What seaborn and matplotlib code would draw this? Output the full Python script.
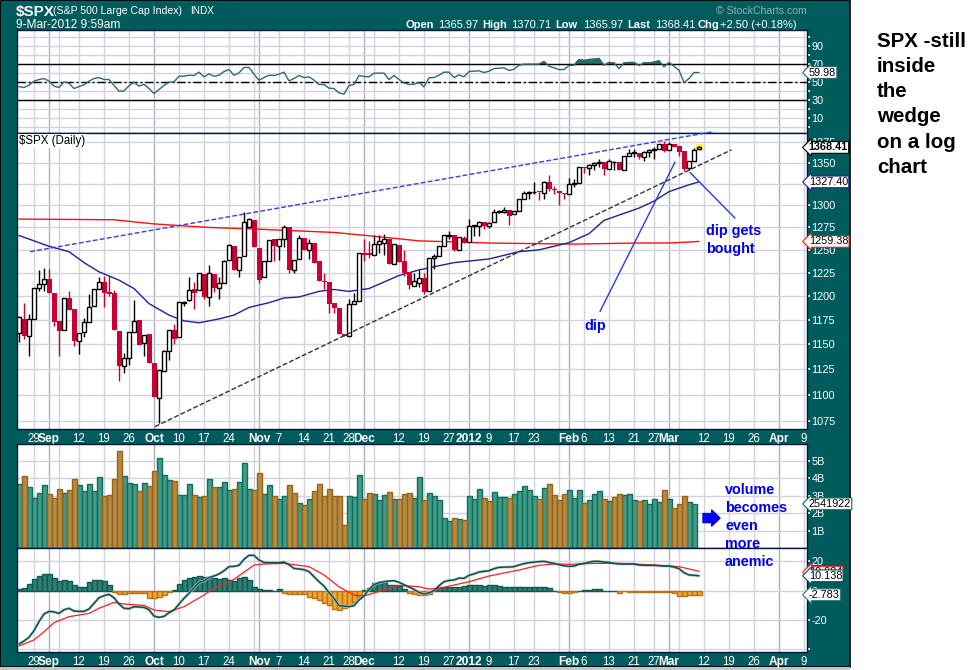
import numpy as np
import seaborn as sns
from matplotlib import pyplot as plt
from matplotlib.patches import Rectangle
from matplotlib.ticker import NullLocator

# **************************************************************************
# data, one entry per trading day

rsi_values = [44.4, 43.3, 45.9, 50.4, 52.2, 53.3, 50.4, 44.8, 43.3, 49.6,
              48.1, 42.2, 44.4, 46.3, 50.4, 53.3, 54.4, 52.2, 52.2, 45.6,
              39.3, 39.6, 45.2, 49.3, 44.8, 47.0, 42.2, 36.7, 41.1, 45.6,
              49.3, 49.6, 55.9, 55.9, 57.0, 56.7, 60.4, 55.2, 58.5, 55.9,
              57.0, 61.1, 63.3, 57.0, 59.6, 65.6, 65.6, 58.1, 51.5, 54.4,
              57.0, 56.7, 58.1, 60.4, 50.7, 53.3, 56.7, 54.4, 55.2, 51.5,
              46.7, 46.7, 42.6, 42.2, 37.4, 35.9, 45.6, 46.7, 56.7, 55.6,
              55.2, 59.3, 59.3, 59.3, 52.2, 56.7, 52.2, 48.5, 46.7, 47.0,
              48.9, 44.1, 54.1, 54.4, 57.0, 60.4, 60.4, 54.4, 57.4, 55.2,
              61.1, 61.5, 61.9, 60.0, 61.5, 64.4, 64.8, 65.2, 62.2, 63.7,
              68.1, 69.3, 69.3, 69.3, 69.3, 72.2, 67.0, 65.2, 63.3, 63.3,
              67.8, 68.1, 74.4, 73.3, 74.4, 74.8, 75.6, 68.1, 71.1, 70.7,
              64.4, 70.7, 71.1, 71.1, 67.8, 70.7, 70.7, 71.5, 73.0, 66.3,
              71.1, 67.0, 62.6, 48.9, 53.3, 60.0, 59.98]

price_open = [1161, 1176, 1158, 1176, 1209, 1213, 1218, 1203, 1173.5, 1165,
              1198, 1186, 1153, 1162, 1173, 1189, 1208, 1215, 1204, 1203,
              1164, 1128, 1136, 1162, 1175, 1151, 1160, 1131, 1097, 1123,
              1143, 1165, 1157, 1193, 1196, 1207, 1206, 1224, 1199.5, 1224,
              1209, 1214, 1239, 1254, 1228, 1243, 1275, 1284, 1252, 1220,
              1238, 1262, 1254, 1262, 1275, 1228, 1240, 1263, 1250, 1258,
              1238, 1216, 1215, 1192.5, 1187, 1160.5, 1158, 1191.5, 1195, 1246.5,
              1246, 1244, 1257, 1258, 1262, 1235, 1255, 1238, 1226, 1211,
              1214, 1219, 1205, 1241, 1243, 1254, 1265, 1266, 1250, 1263,
              1259, 1277, 1277, 1281, 1277, 1281, 1292, 1293, 1295, 1290,
              1294, 1308, 1315, 1315.5, 1317, 1315, 1327, 1319, 1317, 1315,
              1313, 1325, 1326, 1345, 1344, 1347, 1350, 1351, 1343, 1350.5,
              1351, 1342, 1358, 1361.5, 1362, 1357, 1363, 1365, 1367, 1372,
              1365, 1373, 1370, 1364, 1344, 1352, 1365.97]
price_high = [1179, 1193, 1181, 1209, 1228, 1230, 1229, 1203, 1173.5, 1198,
              1205, 1186, 1161, 1177, 1202, 1208, 1220, 1221, 1221, 1206,
              1164, 1141, 1162, 1196, 1175, 1159, 1160, 1131, 1124, 1144.5,
              1165, 1171, 1194, 1194.5, 1220, 1215, 1225, 1224, 1233, 1224,
              1220, 1239, 1257, 1254, 1242, 1293, 1286, 1284, 1252, 1238,
              1261, 1262, 1262, 1278, 1275, 1239, 1267, 1263, 1262, 1258,
              1238, 1225, 1215, 1192.5, 1187, 1160.5, 1197, 1203, 1246.5, 1262,
              1260, 1267, 1267, 1268, 1262, 1256, 1255, 1250, 1226, 1225,
              1228, 1225, 1241, 1245, 1254, 1266, 1271, 1266, 1264, 1265,
              1285, 1278, 1282, 1281, 1281, 1296, 1295, 1298, 1295, 1294,
              1308, 1317, 1317, 1327, 1317, 1329, 1335, 1322, 1317, 1315,
              1332, 1331, 1345, 1345, 1348, 1351, 1354, 1351, 1354, 1352,
              1351, 1358, 1366, 1367, 1362, 1364, 1367, 1369, 1372, 1376,
              1375, 1373, 1370, 1364, 1352, 1368, 1370.71]
price_low = [1152, 1155, 1138, 1176, 1205, 1205, 1203, 1169, 1138, 1165,
             1185, 1148, 1140, 1157, 1173, 1189, 1208, 1188, 1200, 1165,
             1113, 1121, 1129, 1162, 1149.5, 1138, 1131, 1098, 1073, 1123,
             1134, 1150, 1157, 1190, 1195, 1186, 1206, 1197, 1190, 1204,
             1197, 1214, 1239, 1228, 1220, 1243, 1275, 1253, 1214, 1220,
             1238, 1238, 1239, 1253, 1225, 1225, 1240, 1250, 1240, 1236,
             1216, 1208, 1182, 1182, 1160.5, 1158, 1158, 1191.5, 1195, 1238,
             1241, 1244, 1246, 1244, 1234, 1235, 1237, 1221, 1208, 1211,
             1210, 1202, 1205, 1229, 1243, 1254, 1262, 1249, 1250, 1258,
             1259, 1265, 1265, 1273, 1274, 1281, 1291, 1291.5, 1278, 1290,
             1294, 1308, 1308, 1313, 1306, 1307, 1317, 1313, 1300, 1307,
             1313, 1321, 1326, 1338, 1336, 1342, 1345, 1336, 1343, 1342,
             1342, 1342, 1358, 1357, 1355, 1352, 1357, 1354, 1367, 1363,
             1365, 1369, 1358, 1340, 1342, 1352, 1365.97]
price_close = [1178, 1158, 1176, 1209, 1213, 1218, 1203, 1173, 1164, 1198,
               1185, 1153, 1161, 1173, 1188, 1208, 1215, 1203, 1202, 1165,
               1128, 1136, 1162, 1174, 1149.5, 1159, 1131, 1098, 1124, 1143,
               1165, 1155, 1194, 1194, 1206, 1203, 1225, 1199, 1225, 1209,
               1214, 1238, 1255, 1228, 1242, 1281, 1285, 1253, 1217, 1238,
               1261, 1254, 1262, 1276, 1228, 1239, 1263, 1250, 1258, 1236,
               1216, 1215, 1192, 1187, 1160.5, 1158, 1191.5, 1195, 1246.5, 1244,
               1244, 1257, 1260, 1262, 1234, 1256, 1237, 1225, 1212, 1216,
               1219, 1204, 1241, 1243, 1254, 1266, 1267, 1250, 1264, 1258,
               1277, 1278, 1281, 1277, 1280, 1292, 1294, 1295, 1288, 1294,
               1308, 1315, 1316, 1316, 1316, 1327, 1319, 1318, 1314, 1313,
               1325, 1326, 1345, 1344, 1347, 1350, 1351.5, 1343, 1352, 1351,
               1342, 1358, 1362, 1363, 1357, 1363, 1365, 1367, 1372, 1364,
               1373, 1369, 1363, 1343, 1352, 1365, 1368.41]

# moving averages, read at these trading days only
ma200_days = [0, 19, 27, 38, 46, 63, 70, 80, 86, 94, 111, 124, 130, 135, 136]
ma200_vals = [1284.5, 1283.7, 1279, 1275, 1273.5, 1269.4, 1265.7, 1260, 1259,
              1257.6, 1256.4, 1257.6, 1257.6, 1259, 1259.38]
ma50_days = [0, 3, 6, 10, 13, 16, 20, 23, 26, 30, 33, 36, 40, 43, 46, 50, 53,
             56, 60, 63, 66, 70, 73, 76, 80, 87, 94, 100, 104, 107, 110, 114,
             117, 120, 124, 127, 130, 134, 136]
ma50_vals = [1266, 1260, 1254, 1248, 1236, 1226, 1217, 1208, 1192, 1180, 1174,
             1172, 1176, 1180, 1188, 1193, 1198, 1199, 1205, 1207, 1205, 1208,
             1215, 1222, 1228, 1236, 1240, 1248, 1250, 1254, 1258, 1268, 1283,
             1289, 1297, 1305, 1316, 1324, 1327.4]

volume_vals = [3.66, 4.14, 3.49, 2.86, 3.15, 3.61, 3.09, 2.86, 3.38, 3.15,
               3.32, 3.95, 3.61, 3.26, 3.66, 3.26, 4.06, 2.98, 3.03, 3.95,
               5.55, 4.12, 3.72, 3.66, 3.26, 3.72, 3.55, 4.41, 5.15, 4.18,
               3.89, 3.84, 3.03, 3.03, 3.66, 3.03, 2.92, 2.98, 3.95, 3.49,
               3.49, 3.78, 3.32, 3.38, 3.78, 4.87, 3.38, 3.32, 4.29, 3.09,
               3.61, 2.98, 2.81, 2.98, 3.61, 3.15, 2.58, 2.46, 2.81, 3.26,
               3.66, 2.98, 3.38, 2.98, 2.98, 1.32, 2.98, 2.92, 4.18, 2.81,
               3.15, 3.09, 2.75, 3.03, 3.21, 2.81, 2.81, 3.09, 3.15, 2.86,
               4.06, 2.77, 3.15, 2.98, 2.75, 1.72, 1.55, 1.72, 1.66, 1.60,
               2.98, 2.81, 3.38, 2.86, 2.69, 3.21, 2.92, 2.92, 2.86, 3.09,
               3.26, 3.55, 3.32, 2.98, 2.81, 3.44, 3.66, 3.03, 2.75, 3.09,
               3.32, 2.86, 3.32, 2.58, 2.75, 3.09, 3.26, 2.81, 2.69, 2.92,
               3.09, 3.03, 3.09, 2.75, 2.69, 2.75, 2.52, 2.81, 2.63, 3.32,
               2.81, 2.29, 2.52, 2.98, 2.63, 2.54]
# g = up day, b = down day
volume_flags = list("gbggggbbbg" "bbgggggbbb" "bgggbgbbgg" "gbgggbgbgb"
                    "gggbgggbbg" "gbggbbgbgb" "bbbbbbgggb" "bgggbgbbbg"
                    "g" "bgggggbgbg" "ggbbgggbgg" "gggbgbbbbg"
                    "ggbgggbgbb" "gggbggggbg" "bbbgg")

macd_line = [-36.4, -34.3, -31.8, -27.3, -21.1, -15.9, -14.1, -14.5, -15.5, -13,
             -12, -13.9, -14.1, -14.1, -12.5, -8.6, -4.8, -3.4, -2.5, -4.8,
             -9.1, -12, -12.3, -10.9, -11.1, -11.4, -13, -17.3, -18.2, -17.5,
             -15, -13.2, -9.1, -5.2, -1.8, 2, 5.5, 6.8, 8.9, 10,
             11.4, 13.6, 16.4, 16.6, 17.3, 21.4, 24.1, 24.1, 20.9, 19.3,
             19.1, 19.1, 19.1, 19.5, 17.7, 15.2, 14.8, 14.3, 13, 9.5,
             6.1, 3.2, -1.4, -5.2, -10.2, -10.5, -10.9, -10.2, -6.4, -3.6,
             0.9, 4.1, 5.5, 6.1, 6.6, 6.8, 5.7, 4.1, 2.5, 0.9,
             -1.1, -2.3, -1.4, 0, 3.4, 6.1, 7, 7.3, 8.6, 8.4,
             10.5, 11.4, 12.7, 13.2, 13.6, 15, 15.9, 16.1, 16.1, 16.4,
             17.5, 18.4, 19.1, 19.5, 19.8, 20, 19.3, 18.6, 17.7, 17,
             16.6, 16.8, 18, 18.6, 19.5, 20, 20, 19.5, 19.3, 18.6,
             18.2, 18.2, 18.2, 18.2, 17.5, 17.3, 17.3, 17.3, 17, 16.8,
             16.8, 16.1, 15, 12.3, 10.7, 10.5, 10.14]
signal_days = [0, 3, 5, 7, 10, 14, 16, 19, 21, 25, 27, 30, 33, 37, 39, 43, 47,
               49, 53, 58, 61, 64, 67, 69, 73, 76, 80, 82, 84, 90, 94, 100, 104,
               107, 110, 115, 120, 127, 132, 136]
signal_vals = [-37.7, -33.6, -28, -21.8, -17.7, -15.5, -12, -8, -9.1, -10, -13.2,
               -14.3, -10.9, -3, 1.6, 7.7, 17.5, 18.2, 18.6, 16.4, 10.7, 2.7, -3,
               -3.6, 0.5, 3.6, 2.7, 1.1, 1.6, 6.1, 10, 14.1, 17.3, 18.2, 18,
               18.6, 18.6, 17.5, 16.4, 13.2]
macd_hist = [0.9, 1.6, 4.3, 7.7, 10, 11.1, 11.1, 8.4, 6.4, 7,
             6.4, 3.6, 2.3, 2.7, 5.7, 7, 7, 6.4, 3.6, -0.7,
             -2.5, -2.5, -1.4, -1.4, -1.4, -1.8, -5.2, -5.2, -4.1, -3,
             -0.7, 0.7, 4.3, 7, 8.6, 9.1, 9.8, 9.1, 9.1, 8.4,
             8.2, 8.6, 7, 6.4, 8.4, 9.1, 7.3, 2.3, 0.9, 0.7,
             0.7, 0, 1.4, -1.8, -2.5, -2.3, -2.5, -2.5, -4.1, -5.2,
             -6.4, -8.6, -9.8, -12.5, -13.2, -12, -9.8, -7.5, -4.1, 0.5,
             2, 5, 5.7, 5.7, 4.1, 4.1, 3.2, 0.9, -1.8, -2.5,
             -3, -3, -2.3, 0.5, 2.3, 2.7, 2.7, 2.7, 2.7, 3.2,
             3.6, 3.6, 3.6, 3.4, 3.6, 3.6, 3.2, 2.3, 2.3, 2.3,
             2.3, 2.7, 2.7, 2.3, 2.3, 2.3, 1.6, 0, -0.9, -1.4,
             -1.4, -0.7, 0, 0.5, 0.5, 0.9, 1.4, 0, 0, 0,
             -1.4, -0.5, -0.7, -0.7, -0.7, -0.7, -0.7, -0.7, -0.9, -1.1,
             -1.1, -1.4, -3.6, -3.6, -3.2, -3, -2.78]

# x axis, positions are trading day numbers
month_days = [6, 27, 48, 69, 90, 110, 130, 152]
month_labels = ['Sep', 'Oct', 'Nov', 'Dec', '2012', 'Feb', 'Mar', 'Apr']
tick_days = [3, 8, 12, 17, 22, 32, 37, 42, 47, 52, 57, 62, 66, 71, 76, 81, 86,
             94, 99, 103, 108, 113, 118, 123, 127, 132, 137, 142, 147, 157]
tick_labels = ['29', '', '12', '19', '26', '10', '17', '24', '', '7', '14', '21',
               '28', '', '12', '19', '27', '9', '17', '23', '', '6', '13', '21',
               '27', '', '12', '19', '26', '9']

# drawn by hand on the chart: (day, value) at both ends
upper_wedge = ([2.2, 139], [1248, 1387.8])
lower_wedge = ([27.2, 142.5], [1069.3, 1365.6])
dip_pointer = ([116.2, 131.2], [1183.8, 1350.8])
bought_pointer = ([134.2, 143.2], [1338.5, 1285.6])

# **************************************************************************

FIG_W = 976
FIG_H = 670
TEAL = '#005c5c'
GRID = '#d2d2e0'
GRID_DARK = '#adb0c2'
NAVY = '#00183c'
RED = '#cc0033'
NOTE_BLUE = '#0000ee'
FONT = 'Liberation Sans'


def panel(fig, top, bottom):
    # panels are placed by pixel rows of the original picture
    left, right = 16.5, 806.5
    ax = fig.add_axes([left / FIG_W, 1 - bottom / FIG_H, (right - left) / FIG_W, (bottom - top) / FIG_H])
    ax.set_xlim(-0.5, 157.5)
    ax.set_facecolor('white')
    for spine in ax.spines.values():
        spine.set_color(NAVY)
        spine.set_linewidth(1)
    return ax


def style_axis(ax, y_ticks, y_labels, show_dates=False):
    ax.set_yticks(y_ticks, y_labels)
    ax.yaxis.set_minor_locator(NullLocator())
    ax.yaxis.tick_right()
    ax.set_xticks(month_days, month_labels if show_dates else [''] * len(month_days))
    ax.set_xticks(tick_days, tick_labels if show_dates else [''] * len(tick_days), minor=True)
    ax.tick_params(axis='y', length=2, color='white', labelcolor='white', labelsize=7.8, pad=1.5)
    ax.tick_params(axis='x', which='both', length=0, labelcolor='white', pad=3)
    ax.tick_params(axis='x', which='major', labelsize=8.6)
    ax.tick_params(axis='x', which='minor', labelsize=8.3)
    for label in ax.get_xticklabels():
        label.set_fontweight('bold')
    ax.set_axisbelow(True)
    ax.grid(axis='y', color=GRID, linewidth=1)
    ax.grid(axis='x', which='major', color=GRID_DARK, linewidth=1)
    ax.grid(axis='x', which='minor', color=GRID, linewidth=1)
    ax.set_xlabel('')
    ax.set_ylabel('')


def value_tag(ax, value, text, edge, weight='normal', size=7.8):
    # white tag in the right margin, pointing at the last value
    ax.text(1.0028, value, text, transform=ax.get_yaxis_transform(), va='center', ha='left',
            color='black', fontsize=size, fontweight=weight, zorder=6,
            bbox=dict(boxstyle='larrow,pad=0.08', facecolor='white', edgecolor=edge, linewidth=0.8))


def fig_text(fig, x, y, text, **kwargs):
    kwargs.setdefault('va', 'center_baseline')
    fig.text(x / FIG_W, 1 - y / FIG_H, text, **kwargs)


def draw_bars(ax, days, vals, fill, edge):
    sns.barplot(x=days, y=vals, color=fill, edgecolor=edge, linewidth=1, saturation=1,
                native_scale=True, width=1, errorbar=None, ax=ax)


def run_chart():

    sns.set_theme(style='white')
    plt.rcParams['font.family'] = [FONT, 'DejaVu Sans']

    fig = plt.figure(figsize=(FIG_W / 100, FIG_H / 100), dpi=100, facecolor='white')

    # teal frame of the chart
    fig.add_artist(Rectangle((0, 3 / FIG_H), 850 / FIG_W, 667 / FIG_H, transform=fig.transFigure,
                             facecolor=TEAL, edgecolor='black', linewidth=1.2, zorder=-1))
    fig.add_artist(Rectangle((0, 0), 850 / FIG_W, 3 / FIG_H, transform=fig.transFigure,
                             facecolor='#c4c4c4', edgecolor='none', zorder=-1))

    days = np.arange(len(price_close))

    # ------------------------------ RSI panel
    ax_rsi = panel(fig, 29.5, 133)
    rsi = np.array(rsi_values)
    ax_rsi.fill_between(days, 70, rsi, where=rsi > 70, color='#1f6f66', interpolate=True, zorder=2)
    sns.lineplot(x=days, y=rsi, color='#2f6b6b', linewidth=1.0, ax=ax_rsi, zorder=3)
    ax_rsi.axhline(70, color='black', linewidth=1, zorder=2)
    ax_rsi.axhline(30, color='black', linewidth=1, zorder=2)
    ax_rsi.axhline(50, color='black', linewidth=1, linestyle=(0, (6, 2, 1.5, 2)), zorder=2)
    style_axis(ax_rsi, list(range(0, 101, 10)),
               ['', '10', '', '30', '', '50', '', '70', '', '90', ''])
    ax_rsi.set_ylim(-7.2, 107.8)
    value_tag(ax_rsi, 59.98, '59.98', '#2f6b6b')

    # ------------------------------ price panel
    ax_price = panel(fig, 133, 429)
    ax_price.set_yscale('log')
    sns.lineplot(x=ma200_days, y=ma200_vals, color='#ff1010', linewidth=1.0, ax=ax_price, zorder=2)
    sns.lineplot(x=ma50_days, y=ma50_vals, color='#20209a', linewidth=1.0, ax=ax_price, zorder=2)

    opens = np.array(price_open)
    closes = np.array(price_close)
    rising = closes >= opens
    ax_price.plot(days[-1], price_close[-1], marker='s', markersize=4.8, color='#ffee55', linestyle='none', zorder=2.5)
    ax_price.vlines(days[rising], np.array(price_low)[rising], np.array(price_high)[rising],
                    color='black', linewidth=1, zorder=3)
    ax_price.vlines(days[~rising], np.array(price_low)[~rising], np.array(price_high)[~rising],
                    color=RED, linewidth=1, zorder=3)
    ax_price.bar(days[~rising], (opens - closes)[~rising], bottom=closes[~rising], width=1,
                 color=RED, linewidth=0, zorder=4)
    ax_price.bar(days[rising], (closes - opens)[rising], bottom=opens[rising], width=0.8,
                 facecolor='white', edgecolor='black', linewidth=1, zorder=4)

    ax_price.plot(*upper_wedge, color='#3a3aee', linewidth=1.0, linestyle=(0, (3.5, 1.6)), clip_on=False, zorder=5)
    ax_price.plot(*lower_wedge, color='#333333', linewidth=1.0, linestyle=(0, (3.5, 1.6)), zorder=5)
    ax_price.plot(*dip_pointer, color='#2a3fd0', linewidth=1.0, zorder=5)
    ax_price.plot(*bought_pointer, color='#2a3fd0', linewidth=1.0, zorder=5)

    price_ticks = list(range(1075, 1376, 25))
    price_labels = [str(t) if t != 1325 else '' for t in price_ticks]
    style_axis(ax_price, price_ticks, price_labels, show_dates=True)
    ax_price.set_ylim(1067, 1386)
    ax_price.text(0.003, 0.993, '$SPX (Daily)', transform=ax_price.transAxes, va='top', ha='left',
                  fontsize=8.3, color='black', zorder=6,
                  bbox=dict(facecolor='white', edgecolor='none', pad=0.5))
    value_tag(ax_price, 1368.41, '1368.41', 'black', weight='bold')
    value_tag(ax_price, 1327.40, '1327.40', '#20209a')
    value_tag(ax_price, 1259.38, '1259.38', '#ff1010')

    # ------------------------------ volume panel
    ax_vol = panel(fig, 444, 548)
    vol_days = days[:len(volume_vals)]
    vols = np.array(volume_vals)
    up_day = np.array([flag == 'g' for flag in volume_flags])
    draw_bars(ax_vol, vol_days[up_day], vols[up_day], '#439a86', '#0d6e5c')
    draw_bars(ax_vol, vol_days[~up_day], vols[~up_day], '#b28b48', '#99620f')
    style_axis(ax_vol, [1, 2, 3, 4, 5], ['1B', '2B', '3B', '4B', '5B'])
    ax_vol.set_ylim(0, 5.98)
    ax_vol.set_xlim(-0.5, 157.5)
    value_tag(ax_vol, 2.54, '2541922', '#0d6e5c')
    ax_vol.annotate('', xy=(140.2, 1.72), xytext=(136.8, 1.72), annotation_clip=False,
                    arrowprops=dict(width=6.5, headwidth=11.5, headlength=6, color='#0000ff', shrink=0))

    # ------------------------------ MACD panel
    ax_macd = panel(fig, 548, 652)
    hist = np.array(macd_hist)
    draw_bars(ax_macd, days[hist >= 0], hist[hist >= 0], '#2f7f74', '#0f5a50')
    draw_bars(ax_macd, days[hist < 0], hist[hist < 0], '#f5a52a', '#b5741a')
    sns.lineplot(x=days, y=macd_line, color='#b4cccc', linewidth=2.0, ax=ax_macd, zorder=3)
    sns.lineplot(x=days, y=macd_line, color='#0f4f4f', linewidth=1.1, ax=ax_macd, zorder=3.2)
    sns.lineplot(x=signal_days, y=signal_vals, color='#ff2020', linewidth=0.9, ax=ax_macd, zorder=3.1)
    style_axis(ax_macd, [-40, -20, 0, 20], ['', '-20', '0', '20'], show_dates=True)
    ax_macd.set_ylim(-41.8, 29.1)
    ax_macd.set_xlim(-0.5, 157.5)
    value_tag(ax_macd, 12.6, '10.884', '#ff2020')
    value_tag(ax_macd, 10.14, '10.138', '#0f4f4f')
    value_tag(ax_macd, -2.78, '-2.783', '#2f7f74')

    # ------------------------------ header
    fig_text(fig, 16, 10.5, '$SPX', color='white', fontsize=11, fontweight='bold')
    fig_text(fig, 53, 10.5, '(S&P 500 Large Cap Index)', color='white', fontsize=7.6)
    fig_text(fig, 190, 10.5, 'INDX', color='white', fontsize=7.2)
    fig_text(fig, 16, 23.5, '9-Mar-2012 9:59am', color='white', fontsize=8.6)
    header_items = [(406, 'Open', True), (438, '1365.97', False), (482, 'High', True), (511, '1370.71', False),
                    (555, 'Low', True), (583, '1365.97', False), (627, 'Last', True), (655, '1368.41', False),
                    (697, 'Chg', True), (720, '+2.50 (+0.18%)', False)]
    for x, text, bold in header_items:
        fig_text(fig, x, 23.5, text, color='white', fontsize=8, fontweight='bold' if bold else 'normal')
    fig_text(fig, 716, 10.5, '\u00a9 StockCharts.com', color='#8fb5b5', fontsize=7.6)

    # ------------------------------ notes written on the chart
    note = dict(color=NOTE_BLUE, fontsize=10.4, fontweight='bold', zorder=8)
    fig_text(fig, 584, 325, 'dip', **note)
    fig_text(fig, 706, 229, 'dip gets', **note)
    fig_text(fig, 706, 247, 'bought', **note)
    for y, word in zip([488, 506, 524, 542, 560], ['volume', 'becomes', 'even', 'more', 'anemic']):
        fig_text(fig, 725, y, word, **note)

    side_lines = ['SPX -still', 'inside', 'the', 'wedge', 'on a log', 'chart']
    for y, line in zip([47, 72, 97, 122, 148, 173], side_lines):
        fig_text(fig, 877, y, line, color='black', fontsize=14.8, fontweight='bold', va='baseline')

    fig.savefig('out.png', dpi=100)


# **************************************************************************


run_chart()


# **************************************************************************
